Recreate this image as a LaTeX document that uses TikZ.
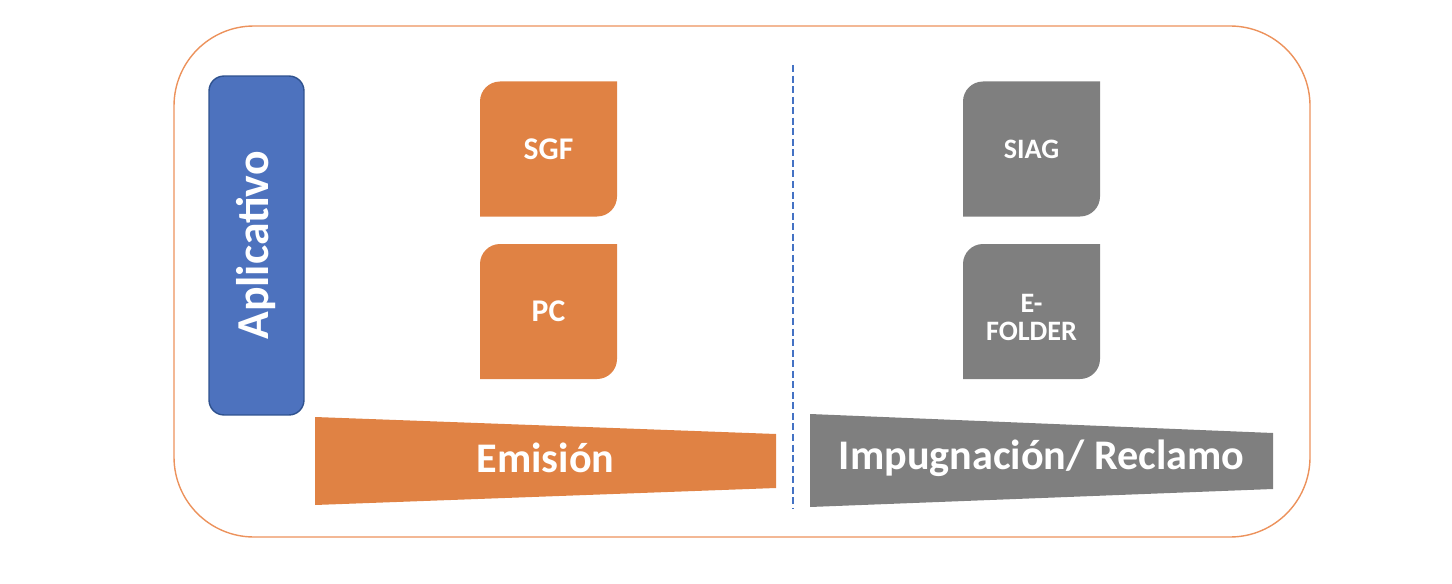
\documentclass[tikz,border=0pt]{standalone}
\usepackage{fontspec}
\setmainfont{Carlito}
\usetikzlibrary{positioning}
\usetikzlibrary{calc}
\definecolor{emiorange}{RGB}{224,130,68}
\definecolor{recgray}{RGB}{127,127,127}
\definecolor{appblue}{RGB}{77,114,190}
\definecolor{appborder}{RGB}{47,82,143}
\definecolor{frameorange}{RGB}{236,146,92}
\definecolor{lineblue}{RGB}{68,114,196}
\tikzstyle{appbox}=[rectangle,rounded corners=0.3cm,fill=appblue,draw=appborder,line width=0.8pt,minimum width=6.78cm,minimum height=1.9cm,inner sep=0pt,text=white,font=\bfseries\fontsize{26}{30}\selectfont]
\tikzstyle{sysbox}=[rectangle,minimum width=2.74cm,minimum height=2.7cm,inner sep=0pt,text=white,align=center]
\tikzstyle{phase}=[text=white,font=\bfseries\fontsize{24}{28}\selectfont]
\tikzstyle{frame}=[draw=frameorange,line width=0.8pt,rounded corners=1.6cm]
\tikzstyle{divider}=[draw=lineblue,line width=1.2pt,dash pattern=on 4pt off 2pt]

\begin{document}
\begin{tikzpicture}[x=0.02cm, y=-0.02cm]

  \useasboundingbox (0,0) rectangle (1452,584);

  \def\w{68.5};
  \def\h{67.5};

  \draw[frame] (174,26) rectangle (1310,537);

  \node[appbox, rotate=90] (app) at (256.5,245.5) {Aplicativo};

   \foreach \x/\y/\dy/\name/\col/\fs/\label in { 548.5/149/0/sgf/emiorange/18/SGF, 548.5/311.5/0/pc/emiorange/18/PC, 1031.5/149/0/siag/recgray/16/SIAG, 1031.5/311.5/6/efolder/recgray/16/{E-\\FOLDER}}
   {
          \fill[\col] (\x+\w,\y-\h) -- (\x-\w+20,\y-\h) arc[start angle=90,end angle=180,radius=0.4cm]
                -- (\x-\w,\y+\h) -- (\x+\w-20,\y+\h) arc[start angle=270,end angle=360,radius=0.4cm] -- cycle;
          \node[sysbox, font=\bfseries\fontsize{\fs}{15.5}\selectfont] (\name) at (\x,\y+\dy) {\label};
   }

   \foreach \xl/\ylt/\ylb/\xr/\yrt/\yrb/\col/\name/\label in { 315/417/505/776/434/488/emiorange/emision/{Emisión}, 810/414/507/1273/433/489/recgray/reclamo/{Impugnación/ Reclamo}}
   {
          \fill[\col] (\xl,\ylt) -- (\xr,\yrt) -- (\xr,\yrb) -- (\xl,\ylb) -- cycle;
          \node[phase] (\name) at ({(\xl+\xr)/2},458) {\label};
   }

  \coordinate (divtop) at (793,65);
  \coordinate (divbot) at (793,508);
  \draw[divider] (divtop) -- (divbot);

\end{tikzpicture}
\end{document}
